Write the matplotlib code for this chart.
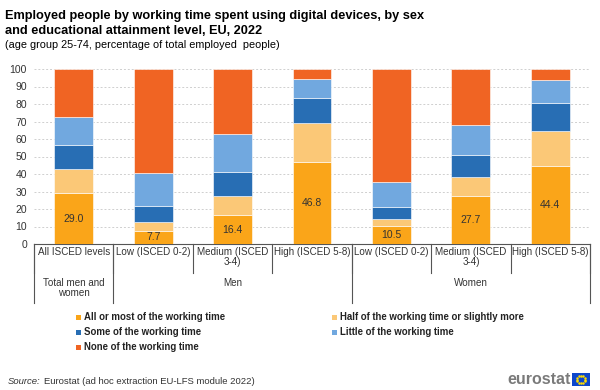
import matplotlib
matplotlib.use("Agg")
import matplotlib.pyplot as plt
import numpy as np
from matplotlib.patches import Rectangle

# ---------------------------------------------------------------------------
# Data (percent of total employed people, age 25-74)
# ---------------------------------------------------------------------------
categories = ["All ISCED levels", "Low (ISCED 0-2)", "Medium (ISCED\n3-4)", "High (ISCED 5-8)",
              "Low (ISCED 0-2)", "Medium (ISCED\n3-4)", "High (ISCED 5-8)"]
groups = ["Total men and\nwomen", "Men", "Women"]
group_sizes = [1, 3, 3]

series_names = ["All or most of the working time", "Half of the working time or slightly more",
                "Some of the working time", "Little of the working time",
                "None of the working time"]
all_or_most = [29.0, 7.7, 16.4, 46.8, 10.5, 27.7, 44.4]
half_or_more = [14.0, 5.0, 11.0, 22.2, 3.9, 10.7, 20.2]
some_time = [13.3, 9.2, 13.9, 14.7, 6.9, 12.4, 16.2]
little_time = [16.1, 18.6, 21.6, 10.4, 14.1, 17.1, 12.7]
none_time = [27.6, 59.5, 37.1, 5.9, 64.6, 32.1, 6.5]

colors = ["#FAA519", "#FBC877", "#286EB4", "#71A8DF", "#F06423"]

title_lines = ["Employed people by working time spent using digital devices, by sex",
               "and educational attainment level, EU, 2022"]
subtitle = "(age group 25-74, percentage of total employed  people)"

# ---------------------------------------------------------------------------
# Figure
# ---------------------------------------------------------------------------
W, H = 600, 390
fig = plt.figure(figsize=(W / 100, H / 100), dpi=100)
fig.patch.set_facecolor("white")
plt.rcParams["font.family"] = ["Liberation Sans", "DejaVu Sans"]

ax_l, ax_r, ax_t, ax_b = 34, 590, 69, 244
ax = fig.add_axes([ax_l / W, 1 - ax_b / H, (ax_r - ax_l) / W, (ax_b - ax_t) / H])

x = np.arange(len(categories))
bottom = np.zeros(len(categories))
stack = [all_or_most, half_or_more, some_time, little_time, none_time]
for k, (vals, col, name) in enumerate(zip(stack, colors, series_names)):
    bars = ax.bar(x, vals, width=0.49, bottom=bottom, color=col, label=name,
                  edgecolor="white", linewidth=0.4, zorder=3)
    if k == 0:
        ax.bar_label(bars, labels=[f"{v:.1f}" for v in vals], label_type="center",
                     fontsize=7.5, color="#333333")
    bottom += np.array(vals)

ax.set_xlim(-0.5, len(categories) - 0.5)
ax.set_ylim(0, 100)
ax.set_yticks(np.arange(0, 101, 10))
ax.tick_params(axis="y", length=0, labelsize=7.5, labelcolor="#333333", pad=5)
ax.set_xticks([])
ax.grid(axis="y", color="#cfcfcf", linestyle=(0, (2, 2)), linewidth=0.7, zorder=0)
for s in ["top", "right", "left"]:
    ax.spines[s].set_visible(False)
ax.spines["bottom"].set_color("#555555")
ax.spines["bottom"].set_linewidth(0.8)

# ---------------------------------------------------------------------------
# Two-level category axis
# ---------------------------------------------------------------------------
def fx(xd):
    return ax_l + (xd + 0.5) / len(categories) * (ax_r - ax_l)

def fy(py):
    return 1 - py / H

line_kw = dict(color="#555555", linewidth=0.8)
cat_bottom, grp_bottom = 273, 303
for i in range(len(categories) + 1):
    xp = fx(i - 0.5) / W
    fig.add_artist(plt.Line2D([xp, xp], [fy(ax_b), fy(cat_bottom)],
                              transform=fig.transFigure, **line_kw))

edges = np.concatenate([[0], np.cumsum(group_sizes)])
for e in edges:
    xp = fx(e - 0.5) / W
    fig.add_artist(plt.Line2D([xp, xp], [fy(ax_b), fy(grp_bottom)],
                              transform=fig.transFigure, **line_kw))

for i, lab in enumerate(categories):
    fig.text(fx(i) / W, fy(247), lab, ha="center", va="top", fontsize=7.1,
             color="#333333", linespacing=1.05)

for g, lab in enumerate(groups):
    center = (edges[g] + edges[g + 1] - 1) / 2
    fig.text(fx(center) / W, fy(278), lab, ha="center", va="top", fontsize=7.1,
             color="#333333", linespacing=1.0)

# ---------------------------------------------------------------------------
# Legend
# ---------------------------------------------------------------------------
leg_pos = [(76, 317), (332, 317), (76, 332), (332, 332), (76, 347)]
for (lx, ly), col, name in zip(leg_pos, colors, series_names):
    fig.add_artist(Rectangle((lx / W, fy(ly + 2.5)), 5 / W, 5 / H, transform=fig.transFigure,
                             facecolor=col, edgecolor="none"))
    fig.text((lx + 8) / W, fy(ly), name, ha="left", va="center", fontsize=6.9,
             fontweight="bold", color="#222222")

# ---------------------------------------------------------------------------
# Titles and footer
# ---------------------------------------------------------------------------
for line, base in zip(title_lines, [19, 34]):
    fig.text(5 / W, fy(base), line, ha="left", va="baseline", fontsize=9.2,
             fontweight="bold", color="#000000")
fig.text(5 / W, fy(48), subtitle, ha="left", va="baseline", fontsize=7.8, color="#000000")

fig.text(8 / W, fy(381), "Source:", ha="left", va="center", fontsize=6.8,
         style="italic", color="#333333")
fig.text(44 / W, fy(381), "Eurostat (ad hoc extraction EU-LFS module 2022)", ha="left",
         va="center", fontsize=6.8, color="#333333")

fig.text(571 / W, fy(379), "eurostat", ha="right", va="center", fontsize=11.5,
         fontweight="bold", color="#7a7a7a")
flag = fig.add_axes([572 / W, fy(386), 18 / W, 13 / H])
flag.set_xlim(-1.3, 1.3)
flag.set_ylim(-1, 1)
flag.set_facecolor("#0E47CB")
ang = np.linspace(0, 2 * np.pi, 12, endpoint=False)
flag.scatter(0.6 * np.cos(ang), 0.6 * np.sin(ang), s=0.6, color="#FFDD00")
flag.set_xticks([])
flag.set_yticks([])
for s in flag.spines.values():
    s.set_visible(False)

fig.savefig("out.png", dpi=100)
